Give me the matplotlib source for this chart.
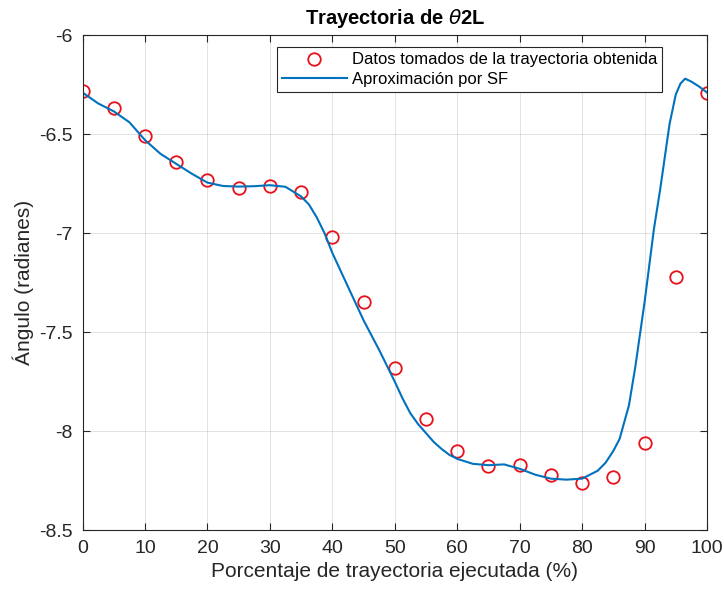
import matplotlib
matplotlib.use("Agg")
import matplotlib.pyplot as plt
from matplotlib.ticker import FuncFormatter

plt.rcParams['font.family'] = ['Liberation Sans', 'DejaVu Sans']
plt.rcParams['mathtext.fontset'] = 'dejavusans'

# datos tomados de la trayectoria obtenida (cada 5 %)
pct_datos = [0, 5, 10, 15, 20, 25, 30, 35, 40, 45, 50,
             55, 60, 65, 70, 75, 80, 85, 90, 95, 100]
theta_datos = [-6.28, -6.37, -6.51, -6.64, -6.73, -6.77, -6.76, -6.79, -7.02, -7.35, -7.68,
               -7.94, -8.10, -8.175, -8.17, -8.22, -8.26, -8.23, -8.06, -7.22, -6.29]

# aproximación por serie de Fourier, evaluada en una malla fina
pct_sf = [0, 2.5, 5, 7.5, 10, 12.5, 15, 17.5, 20, 22.5, 25, 27.5, 30, 32.5, 35, 36.25,
          37.5, 38.75, 40, 42.5, 45, 47.5, 50, 51.25, 52.5, 53.75, 55, 56.25, 57.5,
          58.75, 60, 62.5, 65, 67.5, 70, 72.5, 75, 77.5, 80, 82.5, 83.75, 85, 86,
          87.5, 88.5, 90, 91.5, 92.5, 94, 95, 95.75, 96.5, 97.5, 98.75, 100]
theta_sf = [-6.29, -6.345, -6.385, -6.44, -6.53, -6.60, -6.65, -6.70, -6.745, -6.762,
            -6.765, -6.763, -6.758, -6.766, -6.815, -6.855, -6.92, -7.00, -7.10, -7.27,
            -7.44, -7.59, -7.75, -7.835, -7.91, -7.965, -8.01, -8.055, -8.09, -8.12,
            -8.14, -8.165, -8.172, -8.168, -8.19, -8.22, -8.24, -8.245, -8.24, -8.20,
            -8.16, -8.10, -8.04, -7.87, -7.68, -7.35, -6.98, -6.78, -6.45, -6.30,
            -6.245, -6.22, -6.235, -6.26, -6.29]

fig = plt.figure(figsize=(7.24, 5.95), dpi=100)
ax = fig.add_axes([0.114, 0.109, 0.8625, 0.832])

ax.plot(pct_datos, theta_datos, 'o', color='#e8101a', markerfacecolor='none',
        markersize=9, markeredgewidth=1.3, label='Datos tomados de la trayectoria obtenida')
ax.plot(pct_sf, theta_sf, '-', color='#0072BD', linewidth=1.5, label='Aproximación por SF')

ax.set_xlim(0, 100)
ax.set_ylim(-8.5, -6)
ax.set_xticks(range(0, 101, 10))
ax.set_yticks([-8.5, -8, -7.5, -7, -6.5, -6])
ax.yaxis.set_major_formatter(FuncFormatter(lambda v, p: '%g' % v))
ax.tick_params(direction='in', top=True, right=True, length=5, width=0.8,
               colors='#262626', labelsize=14, labelcolor='#262626', pad=7)
ax.grid(True, color='#262626', alpha=0.15, linewidth=0.6)
for s in ax.spines.values():
    s.set_color('#262626')
    s.set_linewidth(0.8)

ax.set_xlabel('Porcentaje de trayectoria ejecutada (%)', fontsize=15, color='#262626', labelpad=4)
ax.set_ylabel('Ángulo (radianes)', fontsize=15, color='#262626', labelpad=4)
ax.set_title(r'Trayectoria de $\theta$2L', fontsize=14.5, fontweight='bold', pad=8)

leg = ax.legend(loc='upper right', bbox_to_anchor=(0.928, 0.975), borderaxespad=0,
                fontsize=12, fancybox=False, framealpha=1, edgecolor='#262626',
                handlelength=3.9, handletextpad=0.3, borderpad=0.3, labelspacing=0.25)
leg.get_frame().set_linewidth(0.8)

fig.savefig('out.png', dpi=100)
